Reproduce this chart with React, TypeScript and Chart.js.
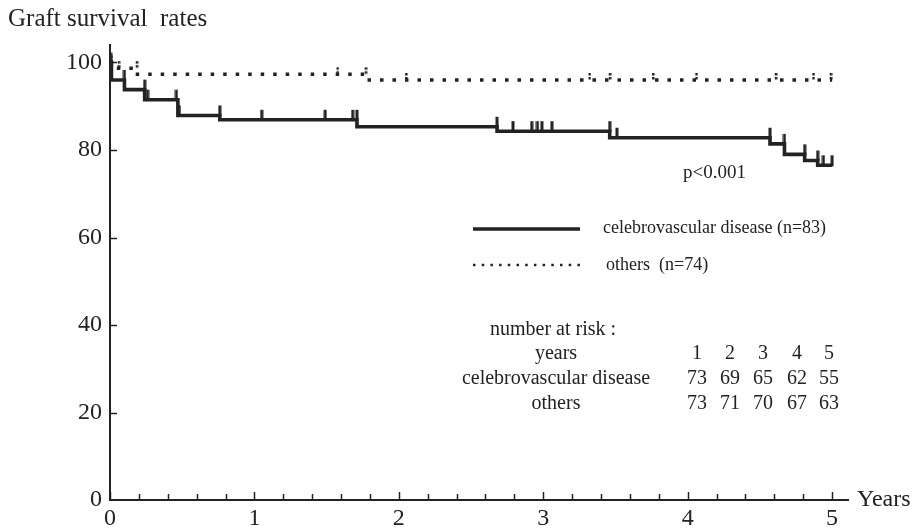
import React, { useEffect, useRef } from 'react';
import { Chart, registerables } from 'chart.js';

Chart.register(...registerables);

// Kaplan-Meier steps: time (years) and survival (%) after each step
const cerebroTimes = [0, 0.01, 0.1, 0.24, 0.47, 0.76, 1.71, 2.68, 3.46, 4.57, 4.67, 4.81, 4.9, 5.0];
const cerebroSurvival = [100, 96.0, 93.8, 91.5, 87.9, 86.9, 85.3, 84.3, 82.8, 81.4, 79.0, 77.6, 76.5, 76.5];

const othersTimes = [0, 0.01, 0.19, 1.78, 5.0];
const othersSurvival = [100, 98.7, 97.3, 96.0, 96.0];

// censored observations (tick marks)
const cerebroCensorTimes = [0.005, 0.1, 0.24, 0.26, 0.46, 0.48, 0.76, 1.05, 1.49, 1.68, 1.71, 2.68, 2.79, 2.92, 2.96, 2.99, 3.06, 3.46, 3.51, 4.57, 4.67, 4.81, 4.9, 4.94, 5.0];
const cerebroCensorSurvival = [100, 96.0, 93.8, 91.5, 91.5, 87.9, 87.9, 86.9, 86.9, 86.9, 86.9, 85.3, 84.3, 84.3, 84.3, 84.3, 84.3, 84.3, 82.8, 82.8, 81.4, 79.0, 77.6, 76.5, 76.5];

const othersCensorTimes = [0.01, 0.06, 0.185, 1.575, 1.77, 2.05, 3.32, 3.46, 3.76, 4.06, 4.61, 4.87, 4.99];
const othersCensorSurvival = [100, 98.7, 98.7, 97.3, 97.3, 96.0, 96.0, 96.0, 96.0, 96.0, 96.0, 96.0, 96.0];

// texts
const yTitle = 'Graft survival  rates';
const xTitle = 'Years';
const pValue = 'p<0.001';
const legendLabels = ['celebrovascular disease (n=83)', 'others  (n=74)'];
const riskTitle = 'number at risk :';
const riskRowLabels = ['years', 'celebrovascular disease', 'others'];
const riskYears = [1, 2, 3, 4, 5];
const riskCerebro = [73, 69, 65, 62, 55];
const riskOthers = [73, 71, 70, 67, 63];

const INK = '#222';
const SERIF = '"Liberation Serif", "DejaVu Serif", serif';

function makeTick(kind: 'solid' | 'dotted'): HTMLCanvasElement {
  const c = document.createElement('canvas');
  c.width = 4;
  c.height = 22;
  const g = c.getContext('2d')!;
  g.fillStyle = INK;
  if (kind === 'solid') {
    g.fillRect(0.5, 1, 3, 11);
  } else {
    g.fillRect(1, 4, 2.5, 2.5);
    g.fillRect(1, 8, 2.5, 2.5);
  }
  return c;
}

function pts(xs: number[], ys: number[]) {
  return xs.map((x, i) => ({ x, y: ys[i] }));
}

export default function App() {
  const ref = useRef<HTMLCanvasElement | null>(null);

  useEffect(() => {
    if (!ref.current) return;
    const solidTick = makeTick('solid');
    const dotTick = makeTick('dotted');

    const decor = {
      id: 'decor',
      afterDraw(chart: any) {
        const ctx = chart.ctx as CanvasRenderingContext2D;
        const xs = chart.scales.x;
        const ys = chart.scales.y;
        ctx.save();
        // inner tick marks on x axis
        ctx.strokeStyle = INK;
        ctx.lineWidth = 1.5;
        xs.ticks.forEach((t: any) => {
          const px = Math.round(xs.getPixelForValue(t.value)) + 0.5;
          const isMajor = Math.abs(t.value - Math.round(t.value)) < 1e-6;
          const len = isMajor ? 8 : 6;
          ctx.beginPath();
          ctx.moveTo(px, ys.bottom);
          ctx.lineTo(px, ys.bottom - len);
          ctx.stroke();
        });
        ys.ticks.forEach((t: any) => {
          if (t.value === 0) return;
          const py = Math.round(ys.getPixelForValue(t.value)) + 0.5;
          ctx.beginPath();
          ctx.moveTo(xs.left, py);
          ctx.lineTo(xs.left + 7, py);
          ctx.stroke();
        });

        ctx.fillStyle = INK;
        ctx.textBaseline = 'middle';
        // titles
        ctx.font = `25px ${SERIF}`;
        ctx.textAlign = 'left';
        ctx.fillText(yTitle, 8, 19);
        ctx.font = `24px ${SERIF}`;
        ctx.fillText(xTitle, 857, 500);

        // p value
        ctx.font = `19px ${SERIF}`;
        ctx.fillText(pValue, 683, 173);

        // legend
        ctx.lineWidth = 3.5;
        ctx.setLineDash([]);
        ctx.beginPath();
        ctx.moveTo(473, 229);
        ctx.lineTo(580, 229);
        ctx.stroke();
        ctx.lineWidth = 2.5;
        ctx.setLineDash([2.5, 6.2]);
        ctx.beginPath();
        ctx.moveTo(473, 265);
        ctx.lineTo(586, 265);
        ctx.stroke();
        ctx.setLineDash([]);
        ctx.font = `18px ${SERIF}`;
        ctx.fillText(legendLabels[0], 603, 228);
        ctx.fillText(legendLabels[1], 606, 265);

        // number at risk table
        ctx.font = `20px ${SERIF}`;
        ctx.textAlign = 'left';
        ctx.fillText(riskTitle, 490, 330);
        const labelCenter = 556;
        const rowY = [354, 379, 404];
        const colX = [697, 730, 763, 797, 829];
        ctx.textAlign = 'center';
        riskRowLabels.forEach((lab, i) => ctx.fillText(lab, labelCenter, rowY[i]));
        riskYears.forEach((v, i) => ctx.fillText(String(v), colX[i], rowY[0]));
        riskCerebro.forEach((v, i) => ctx.fillText(String(v), colX[i], rowY[1]));
        riskOthers.forEach((v, i) => ctx.fillText(String(v), colX[i], rowY[2]));
        ctx.restore();
      },
    };

    const chart = new Chart(ref.current, {
      type: 'scatter',
      data: {
        datasets: [
          {
            label: 'celebrovascular disease',
            data: pts(cerebroTimes, cerebroSurvival),
            showLine: true,
            stepped: true,
            borderColor: INK,
            borderWidth: 3.6,
            pointRadius: 0,
            fill: false,
          },
          {
            label: 'others',
            data: pts(othersTimes, othersSurvival),
            showLine: true,
            stepped: true,
            borderColor: INK,
            borderWidth: 3.5,
            borderDash: [3.5, 9],
            borderCapStyle: 'butt',
            pointRadius: 0,
            fill: false,
          },
          {
            label: 'censored cerebro',
            data: pts(cerebroCensorTimes, cerebroCensorSurvival),
            showLine: false,
            pointStyle: solidTick as any,
            pointRadius: 5,
          },
          {
            label: 'censored others',
            data: pts(othersCensorTimes, othersCensorSurvival),
            showLine: false,
            pointStyle: dotTick as any,
            pointRadius: 5,
          },
        ],
      },
      options: {
        animation: false,
        responsive: false,
        devicePixelRatio: 1,
        layout: { padding: { left: 0, right: 68, top: 45, bottom: 0 } },
        plugins: {
          legend: { display: false },
          tooltip: { enabled: false },
          title: { display: false },
        },
        scales: {
          x: {
            type: 'linear',
            min: 0,
            max: 5.11,
            grid: { display: false, drawTicks: false },
            border: { display: true, color: INK, width: 2 },
            ticks: {
              stepSize: 0.2,
              includeBounds: false,
              autoSkip: false,
              maxRotation: 0,
              padding: 4,
              color: INK,
              font: { family: SERIF, size: 24 },
              callback: (v: any) => {
                const r = Math.round(v);
                return Math.abs(v - r) < 1e-6 ? String(r) : '';
              },
            },
            afterFit: (s: any) => {
              s.height = 28;
            },
          },
          y: {
            type: 'linear',
            min: 0,
            max: 104,
            grid: { display: false, drawTicks: false },
            border: { display: true, color: INK, width: 2 },
            ticks: {
              stepSize: 20,
              includeBounds: false,
              padding: 8,
              color: INK,
              font: { family: SERIF, size: 24 },
            },
            afterFit: (s: any) => {
              s.width = 110;
            },
          },
        },
      },
      plugins: [decor],
    });
    return () => chart.destroy();
  }, []);

  return (
    <div style={{ position: 'absolute', left: 0, top: 0, width: 916, height: 528, background: '#fff' }}>
      <canvas ref={ref} width={916} height={528} />
    </div>
  );
}
